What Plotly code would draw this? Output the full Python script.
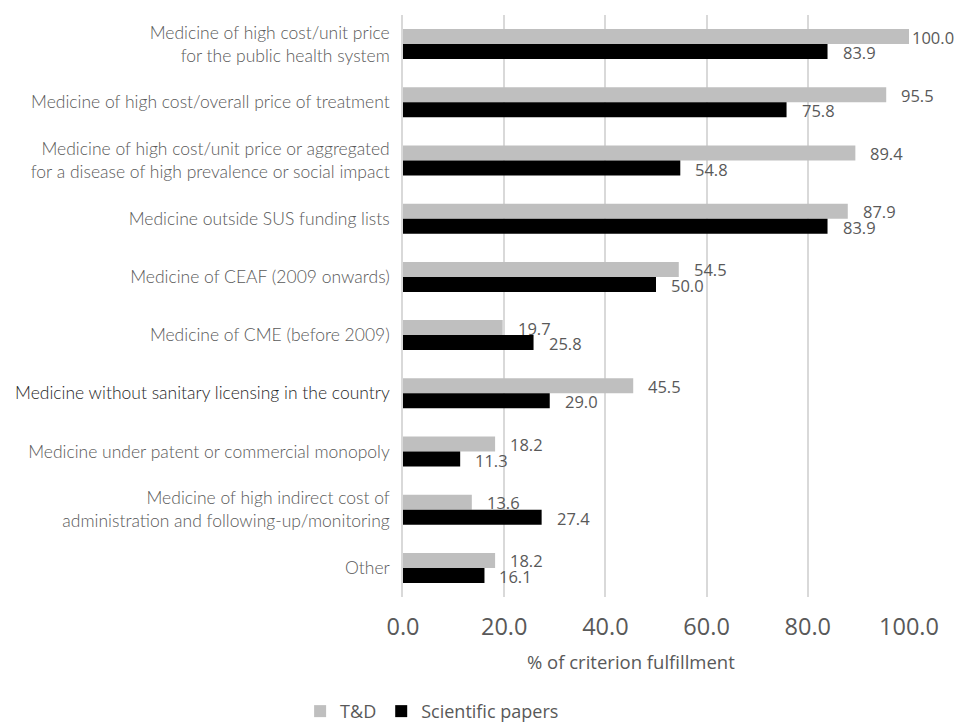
import plotly.graph_objects as go

categories = [
    "Medicine of high cost/unit price<br>for the public health system",
    "Medicine of high cost/overall price of treatment",
    "Medicine of high cost/unit price or aggregated<br>for a disease of high prevalence or social impact",
    "Medicine outside SUS funding lists",
    "Medicine of CEAF (2009 onwards)",
    "Medicine of CME (before 2009)",
    "Medicine without sanitary licensing in the country",
    "Medicine under patent or commercial monopoly",
    "Medicine of high indirect cost of<br>administration and following-up/monitoring",
    "Other",
]
td_values = [100.0, 95.5, 89.4, 87.9, 54.5, 19.7, 45.5, 18.2, 13.6, 18.2]
paper_values = [83.9, 75.8, 54.8, 83.9, 50.0, 25.8, 29.0, 11.3, 27.4, 16.1]
x_ticks = [0, 20, 40, 60, 80, 100]
x_tick_labels = ["0.0", "20.0", "40.0", "60.0", "80.0", "100.0"]

GRAY = "#BFBFBF"
BLACK = "#000000"
TEXT = "#595959"
NUM_FONT = "Open Sans"
CAT_FONT = "Lato"

# category tick text; the licensing row is drawn in a darker tone
cat_ticktext = []
for c in categories:
    if c.startswith("Medicine without sanitary"):
        cat_ticktext.append(f"<span style='color:#262626'>{c}</span>")
    else:
        cat_ticktext.append(c)

fig = go.Figure()
fig.add_trace(go.Bar(
    y=categories, x=td_values, orientation="h", name="T&D",
    marker=dict(color=GRAY, line=dict(width=0)),
))
fig.add_trace(go.Bar(
    y=categories, x=paper_values, orientation="h", name="Scientific papers",
    marker=dict(color=BLACK, line=dict(width=0)),
))

# value labels just past the end of each bar
annotations = []
for cat, v in zip(categories, td_values):
    annotations.append(dict(
        x=v, y=cat, xref="x", yref="y", text=f"{v:.1f}",
        showarrow=False, xanchor="left", yanchor="middle",
        xshift=13 if v < 97 else 1, yshift=7,
        font=dict(family=NUM_FONT, size=16.5, color=TEXT),
    ))
for cat, v in zip(categories, paper_values):
    annotations.append(dict(
        x=v, y=cat, xref="x", yref="y", text=f"{v:.1f}",
        showarrow=False, xanchor="left", yanchor="middle",
        xshift=13, yshift=-8.5,
        font=dict(family=NUM_FONT, size=16.5, color=TEXT),
    ))

# axis title, set slightly left of the plot centre
annotations.append(dict(
    x=0.45, y=-(661 - 597) / (597 - 15), xref="x domain", yref="paper",
    text="% of criterion fulfillment",
    showarrow=False, xanchor="center", yanchor="middle",
    font=dict(family=NUM_FONT, size=18.5, color=TEXT),
))

fig.update_layout(
    width=956, height=723,
    margin=dict(l=403, r=47, t=15, b=126),
    paper_bgcolor="white", plot_bgcolor="white",
    barmode="group", bargap=0.485, bargroupgap=0,
    annotations=annotations,
    showlegend=True,
    legend=dict(
        orientation="h", xref="container", yref="container",
        x=0.452, xanchor="center", y=0.016, yanchor="middle",
        font=dict(family=NUM_FONT, size=18, color=TEXT),
        traceorder="normal", itemwidth=30,
    ),
    xaxis=dict(
        range=[0, 100], tickvals=x_ticks, ticktext=x_tick_labels,
        showgrid=True, gridcolor="#D9D9D9", gridwidth=1.5,
        zeroline=False, showline=False, ticks="",
        ticklabelstandoff=13,
        tickfont=dict(family=NUM_FONT, size=23.5, color=TEXT),
    ),
    yaxis=dict(
        type="category", autorange="reversed",
        tickvals=categories, ticktext=cat_ticktext,
        showgrid=False, zeroline=False,
        showline=True, linecolor="#D9D9D9", linewidth=1.5,
        ticks="", ticklabelstandoff=8,
        tickfont=dict(family=CAT_FONT, size=17.5, color=TEXT, weight=300),
    ),
)

fig.write_html("out.html")
